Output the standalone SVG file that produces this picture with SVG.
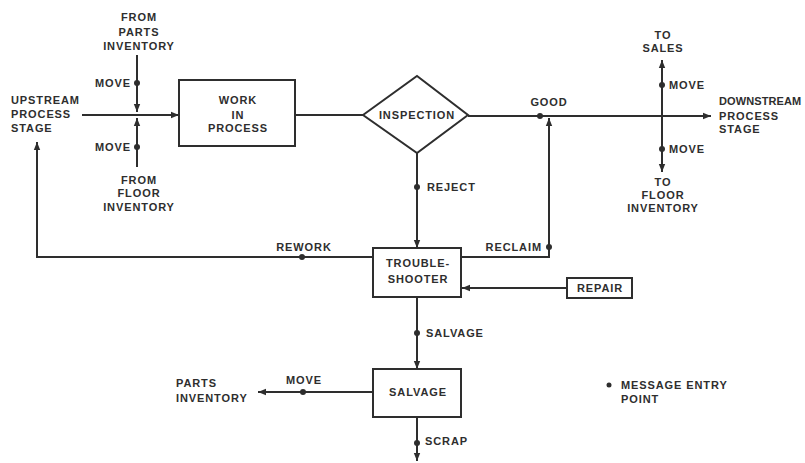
<svg xmlns="http://www.w3.org/2000/svg" width="805" height="463" viewBox="0 0 805 463">
<style>
.ln{stroke:#2e2e2e;stroke-width:2;fill:none}
.bx{stroke:#2e2e2e;stroke-width:2;fill:#fff}
.dot{fill:#2e2e2e}
text{font-family:"Liberation Sans",Arial,sans-serif;font-weight:bold;font-size:11px;fill:#2e2e2e;letter-spacing:0.9px}
.c{text-anchor:middle}
.e{text-anchor:end}
.tight{letter-spacing:0.1px}
</style>
<defs>
<marker id="ah" markerUnits="userSpaceOnUse" markerWidth="9" markerHeight="8" refX="8" refY="4" orient="auto">
<path d="M0,0.8 L8,4 L0,7.2 Z" fill="#2e2e2e"/>
</marker>
</defs>
<rect width="805" height="463" fill="#fff"/>
<g id="connectors">
<path class="ln" d="M137,55 V112" marker-end="url(#ah)"/>
<path class="ln" d="M137,167 V118" marker-end="url(#ah)"/>
<path class="ln" d="M82,115 H179" marker-end="url(#ah)"/>
<path class="ln" d="M295,115 H363"/>
<path class="ln" d="M468,116 H711" marker-end="url(#ah)"/>
<path class="ln" d="M461,257 H549 V118" marker-end="url(#ah)"/>
<path class="ln" d="M662,116 V60" marker-end="url(#ah)"/>
<path class="ln" d="M662,116 V172" marker-end="url(#ah)"/>
<path class="ln" d="M417,153 V248" marker-end="url(#ah)"/>
<path class="ln" d="M373,257 H37 V142" marker-end="url(#ah)"/>
<path class="ln" d="M567,288 H462" marker-end="url(#ah)"/>
<path class="ln" d="M417,297 V369" marker-end="url(#ah)"/>
<path class="ln" d="M373,392 H258" marker-end="url(#ah)"/>
<path class="ln" d="M417,417 V461" marker-end="url(#ah)"/>
<circle class="dot" cx="137" cy="83" r="3"/>
<circle class="dot" cx="137" cy="147" r="3"/>
<circle class="dot" cx="540" cy="116" r="3"/>
<circle class="dot" cx="549" cy="247" r="3"/>
<circle class="dot" cx="662" cy="85" r="3"/>
<circle class="dot" cx="662" cy="149" r="3"/>
<circle class="dot" cx="417" cy="187" r="3"/>
<circle class="dot" cx="302" cy="257" r="3"/>
<circle class="dot" cx="417" cy="333" r="3"/>
<circle class="dot" cx="303" cy="392" r="3"/>
<circle class="dot" cx="417" cy="443" r="3"/>
<text class="e" x="131" y="87">MOVE</text>
<text class="e" x="131" y="151">MOVE</text>
<text class="c" x="549" y="106">GOOD</text>
<text class="e" x="542" y="251">RECLAIM</text>
<text x="669" y="89">MOVE</text>
<text x="669" y="153">MOVE</text>
<text x="427" y="191">REJECT</text>
<text class="c" x="304" y="251">REWORK</text>
<text x="426" y="337">SALVAGE</text>
<text class="c" x="304" y="384">MOVE</text>
<text x="425" y="445">SCRAP</text>
</g>
<g id="upstream">
<text x="11" y="104">UPSTREAM</text>
<text x="11" y="118">PROCESS</text>
<text x="11" y="132">STAGE</text>
</g>
<g id="from-parts">
<text class="c" x="139" y="21">FROM</text>
<text class="c" x="139" y="36">PARTS</text>
<text class="c" x="139" y="50">INVENTORY</text>
</g>
<g id="from-floor">
<text class="c" x="139" y="184">FROM</text>
<text class="c" x="139" y="197">FLOOR</text>
<text class="c" x="139" y="211">INVENTORY</text>
</g>
<g id="wip">
<rect class="bx" x="179" y="80" width="116" height="66"/>
<text class="c" x="238" y="104">WORK</text>
<text class="c" x="238" y="119">IN</text>
<text class="c" x="238" y="132">PROCESS</text>
</g>
<g id="inspection">
<polygon class="bx" points="363,115 417,76 468,115 417,153"/>
<text class="c" x="417" y="119">INSPECTION</text>
</g>
<g id="to-sales">
<text class="c" x="663" y="39">TO</text>
<text class="c" x="663" y="52">SALES</text>
</g>
<g id="downstream">
<text class="tight" x="719" y="105">DOWNSTREAM</text>
<text x="719" y="120">PROCESS</text>
<text x="719" y="133">STAGE</text>
</g>
<g id="to-floor">
<text class="c" x="663" y="186">TO</text>
<text class="c" x="663" y="199">FLOOR</text>
<text class="c" x="663" y="212">INVENTORY</text>
</g>
<g id="troubleshooter">
<rect class="bx" x="373" y="248" width="88" height="49"/>
<text class="c" x="418" y="267">TROUBLE-</text>
<text class="c" x="418" y="283">SHOOTER</text>
</g>
<g id="repair">
<rect class="bx" x="567" y="278" width="65" height="20"/>
<text class="c" x="600" y="292">REPAIR</text>
</g>
<g id="salvage">
<rect class="bx" x="373" y="369" width="88" height="48"/>
<text class="c" x="418" y="396">SALVAGE</text>
</g>
<g id="parts-inventory">
<text x="176" y="387">PARTS</text>
<text x="176" y="402">INVENTORY</text>
</g>
<g id="legend">
<circle class="dot" cx="609" cy="385" r="2.5"/>
<text x="621" y="389">MESSAGE ENTRY</text>
<text x="621" y="403">POINT</text>
</g>
</svg>
